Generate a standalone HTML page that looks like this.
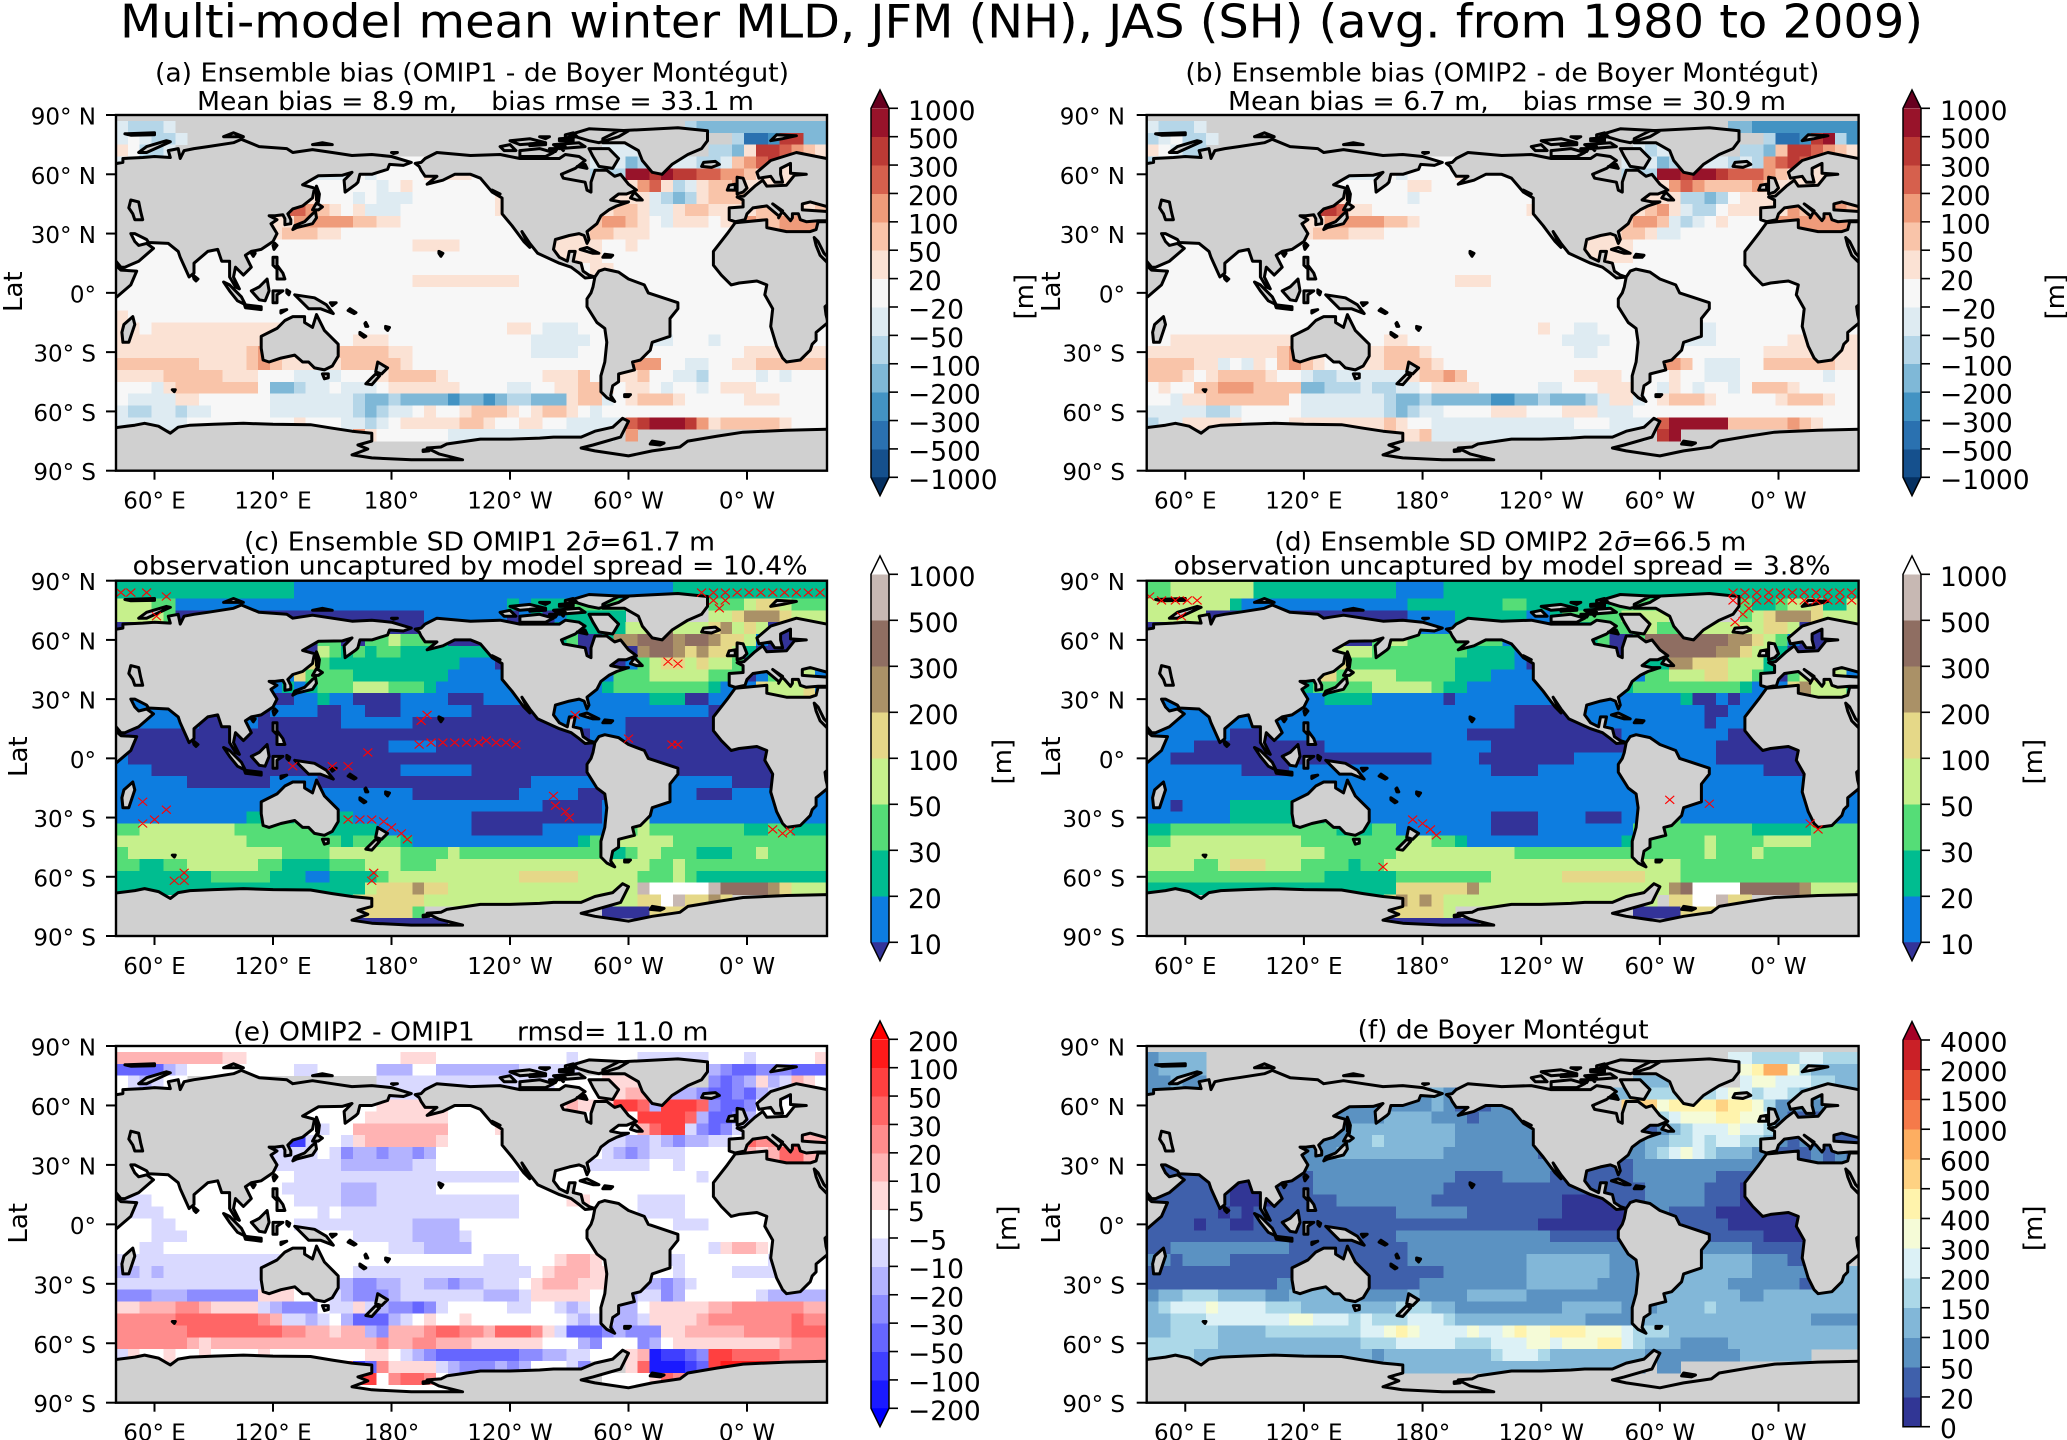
<!DOCTYPE html>
<html lang="en">
<head>
<meta charset="utf-8">
<title>Multi-model mean winter MLD</title>
<style>
html,body{margin:0;padding:0;background:#fff;}
svg{display:block;font-family:"DejaVu Sans","Liberation Sans",sans-serif;}
</style>
</head>
<body>
<svg id="figure" width="2067" height="1440" viewBox="0 0 2067 1440" xmlns="http://www.w3.org/2000/svg">
<rect x="0" y="0" width="2067" height="1440" fill="#fff"/>
<text x="120" y="37.5" font-size="46" textLength="1803" lengthAdjust="spacingAndGlyphs">Multi-model mean winter MLD, JFM (NH), JAS (SH) (avg. from 1980 to 2009)</text>
<text x="155" y="81.7" font-size="25.5" textLength="634" lengthAdjust="spacingAndGlyphs">(a) Ensemble bias (OMIP1 - de Boyer Montégut)</text>
<text x="197" y="110" font-size="25.5" textLength="557" lengthAdjust="spacingAndGlyphs" xml:space="preserve">Mean bias = 8.9 m,    bias rmse = 33.1 m</text>
<text x="1185.4" y="81.7" font-size="25.5" textLength="634" lengthAdjust="spacingAndGlyphs">(b) Ensemble bias (OMIP2 - de Boyer Montégut)</text>
<text x="1228" y="110" font-size="25.5" textLength="558" lengthAdjust="spacingAndGlyphs" xml:space="preserve">Mean bias = 6.7 m,    bias rmse = 30.9 m</text>
<text x="244" y="550.5" font-size="25.5" textLength="471" lengthAdjust="spacingAndGlyphs">(c) Ensemble SD OMIP1 2<tspan font-style="italic">σ̄</tspan>=61.7 m</text>
<text x="132.6" y="574.5" font-size="25.5" textLength="675" lengthAdjust="spacingAndGlyphs">observation uncaptured by model spread = 10.4%</text>
<text x="1274.4" y="550.5" font-size="25.5" textLength="472" lengthAdjust="spacingAndGlyphs">(d) Ensemble SD OMIP2 2<tspan font-style="italic">σ̄</tspan>=66.5 m</text>
<text x="1173.6" y="574.5" font-size="25.5" textLength="657" lengthAdjust="spacingAndGlyphs">observation uncaptured by model spread = 3.8%</text>
<text x="233.4" y="1040.7" font-size="25.5" textLength="475" lengthAdjust="spacingAndGlyphs" xml:space="preserve">(e) OMIP2 - OMIP1     rmsd= 11.0 m</text>
<text x="1357.6" y="1038.3" font-size="25.5" textLength="291" lengthAdjust="spacingAndGlyphs">(f) de Boyer Montégut</text>
</svg>
<script>
// ---------- colour scale levels ----------
const levelsBias = [-1000,-500,-300,-200,-100,-50,-20,20,50,100,200,300,500,1000];
const colorsBias = ['#053061','#15508d','#2a71b0','#4393c3','#7fb8d7','#b5d6e8','#deebf2','#f7f7f7','#fbe2d4','#f9c4a9','#ef9b7a','#d6604d','#bc3a35','#98132a','#67001f'];
const levelsSd = [10,20,30,50,100,200,300,500,1000];
const colorsSd = ['#333399','#0d7de0','#00bd90','#55dd77','#c6f08c','#e5d888','#aa9167','#8f6e62','#c7b8b3','#ffffff'];
const levelsDiff = [-200,-100,-50,-30,-20,-10,-5,5,10,20,30,50,100,200];
const colorsDiff = ['#0000ff','#1a1aff','#3f3fff','#6666ff','#8c8cff','#b3b3ff','#d9d9ff','#ffffff','#ffd9d9','#ffb3b3','#ff8c8c','#ff6666','#ff4040','#ff1a1a','#ff0000'];
const levelsObs = [0,20,50,100,150,200,300,400,500,600,1000,1500,2000,4000];
const colorsObs = ['#313695','#313695','#3f60ab','#5b92c2','#82b7d8','#acd8e8','#dcf1f6','#f5fbd7','#fff3ac','#fed283','#fdae61','#f57a4a','#e64f35','#ca2027','#a50026'];

// ---------- axis ticks ----------
const xTickLons = [60,120,180,240,300,360];
const xTickLabels = ['60° E','120° E','180°','120° W','60° W','0° W'];
const yTickLats = [90,60,30,0,-30,-60,-90];
const yTickLabels = ['90° N','60° N','30° N','0°','30° S','60° S','90° S'];

// ---------- grid: 60 columns from 40.5E, 6 deg each; 29 rows from 87N, 6 deg each; values in metres ----------
const biasOmip1 = [
[-35,-75,-75,-75,-35,,,,,,,,,,,,,,,,,,,,,,,,,,,,,,,,,,,,,,,,,,,,-75,-150,-150,-150,-150,-150,-150,-150,-150,-150,-150,-150,-150],
[-35,0,-35,-75,-75,-35,,,,,,,,,,,,,,,,,,,,,,,,,,,,,,,,,,,,,,,,,,,,,,,-75,-400,-400,-250,400,400,-150,-150,-150,-150],
[35,0,-75,-75,-35,,,,,,,,,,,,,,,,,,,,,,,,,,,,,,,,,,,,,-35,-35,-35,,,,,,,-75,-75,-150,35,300,300,250,150,75,35],
[-35,,,,,,,,,,,,,,,,,,,,,,,,,,,,,,,,,,,,,,,,,,-35,-150,-75,,,-35,-35,-75,-75,-35,75,150,250,300,35,,,],
[,,,,,,,,,,,,,,,,,,-35,-35,0,-35,0,0,0,0,35,35,35,35,0,0,,,,,,,,,,,-75,750,750,400,750,400,400,250,250,150,150,75,35,,,,,],
[,,,,,,,,,,,,,,,,,0,0,0,0,0,-35,0,35,0,0,0,0,0,0,0,35,,,,,,,,,,,35,150,250,35,-75,-35,35,75,75,150,35,,,,,,],
[,,,,,,,,,,,,,,,,35,0,0,0,-35,0,-35,-35,-35,0,0,0,0,0,0,0,35,,,,,,,,,,35,35,35,-35,-75,-150,-75,35,75,75,75,35,,,,,35,35],
[,,,,,,,,,,,,,,,250,150,75,35,0,35,-35,-35,-35,0,0,0,0,0,0,0,0,35,,,,,,,,,35,75,75,35,-35,-35,35,75,75,35,35,35,,75,75,75,75,35,75],
[,,,,,,,,,,,,,,35,150,150,150,150,150,75,75,35,35,0,0,0,0,0,0,0,0,0,0,,,,,,,75,150,150,75,35,0,-35,35,35,35,0,35,35,150,75,75,150,150,150,],
[,,,,,,,,,,,,,35,75,75,75,35,35,0,0,0,0,0,0,0,0,0,0,0,0,0,0,0,,,,,35,35,75,75,35,35,35,0,0,0,0,0,0,0,,,,,,,,],
[,,,0,0,0,,,,,,,,0,0,0,0,0,0,0,0,0,0,0,0,35,35,35,35,0,0,0,0,0,0,,,35,35,35,35,0,0,35,0,0,0,0,0,0,0,,,,,,,,,],
[,0,0,0,0,0,,,0,,,,0,,0,0,0,0,0,0,0,0,0,0,0,0,0,0,0,0,0,0,0,0,0,0,,,35,35,35,0,0,0,0,0,0,0,0,0,0,,,,,,,,,],
[,0,0,0,0,0,,0,0,0,,,0,0,,0,0,0,0,0,0,0,0,0,0,0,0,0,0,0,0,0,0,0,0,0,0,0,0,,,35,0,0,0,0,0,0,0,0,0,0,,,,,,,,],
[,,0,0,0,0,0,0,0,,,0,0,0,,0,0,0,0,0,0,0,0,0,0,35,35,35,35,35,35,35,35,35,0,0,0,0,0,0,,,,,,0,0,0,0,0,0,0,,,,,,,,],
[0,0,0,0,0,0,0,0,0,,0,0,,,0,0,,0,0,0,0,0,0,0,0,0,0,0,0,0,0,0,0,0,0,0,0,0,0,0,,,,,,,0,0,0,0,0,0,0,0,0,,,,,],
[0,0,0,0,0,0,0,0,0,0,,0,0,0,0,0,,,0,0,0,0,0,0,0,0,0,0,0,0,0,0,0,0,0,0,0,0,0,0,,,,,,,,0,0,0,0,0,0,0,0,0,,,,],
[35,0,0,0,0,0,0,0,0,0,0,0,0,0,0,,,0,0,0,0,0,0,0,0,0,0,0,0,0,0,0,0,0,0,0,0,0,0,0,0,,,,,,,0,0,0,0,0,0,0,0,0,,,,],
[35,,0,35,35,35,35,35,35,35,35,35,35,,,,,,0,0,0,0,0,0,0,0,0,0,0,0,0,0,0,35,35,0,-35,-35,-35,0,0,,,,,,0,0,0,0,0,0,0,0,0,,,,,0],
[35,,35,35,35,35,35,35,35,35,35,35,,,,,,,,0,35,35,35,0,0,0,0,0,0,0,0,0,0,0,0,-35,-35,-35,-35,-35,0,,,,,,-35,0,0,0,-35,0,0,0,0,0,,,,0],
[35,35,35,35,35,35,35,35,35,35,35,75,150,,,,,,,75,75,75,75,35,35,0,0,0,0,0,0,0,0,0,0,-35,-35,-35,-35,0,0,0,,,,0,0,0,0,0,0,0,0,35,35,35,,,,35],
[75,75,75,75,75,75,75,35,35,35,35,75,150,75,35,35,35,35,35,75,75,75,75,75,35,0,0,0,0,0,0,0,0,0,0,0,0,0,0,0,0,,,,150,150,0,0,-35,-35,0,0,35,35,75,75,75,75,75,75],
[35,35,35,35,75,75,75,75,75,35,35,35,0,0,0,-35,-35,-35,-35,0,0,,35,75,75,75,75,35,0,0,0,0,0,0,0,0,35,35,35,75,0,,,35,75,0,0,-35,-35,-75,0,0,0,0,-35,0,-35,0,0,0],
[0,0,0,-35,35,75,75,75,75,75,75,75,0,-150,-150,-75,-35,-35,0,-35,-35,-35,0,35,35,35,35,35,35,0,0,0,0,-35,-35,0,0,35,35,75,75,,0,35,35,0,-35,0,0,-35,0,35,35,35,0,0,0,0,0,0],
[0,-35,-35,-35,-35,35,35,0,0,0,0,0,0,-35,-35,-35,-35,-35,-35,-35,-75,-150,-150,-75,-150,-150,-150,-150,-250,-150,-150,-250,-150,-75,-75,-150,-150,-150,35,75,75,-35,0,35,75,75,75,35,0,0,0,0,0,35,35,35,0,0,0,0],
[-35,-75,-75,-35,-35,-75,-35,-35,0,0,0,0,0,-35,-35,-35,-35,-35,-35,-35,-75,-150,-75,-35,-35,0,35,0,0,35,75,75,75,35,0,35,75,75,35,0,-35,0,0,0,0,0,0,0,0,0,0,0,0,0,0,0,0,0,0,0],
[-35,-35,-35,-35,-35,-35,0,0,0,0,0,0,0,0,0,35,0,0,0,-35,-35,-75,-35,0,35,35,35,35,35,75,75,35,0,0,35,35,0,0,-35,-35,-35,-35,-35,250,400,750,750,750,400,150,35,75,75,75,75,75,35,0,0,0],
[,,,,,,,,,,,,,,,,,,,,150,35,0,0,0,0,0,0,-35,-35,-35,-35,-35,-35,-35,-35,-35,-35,-35,-35,-35,-35,,150],
[],
[]
];
const biasOmip2 = [
[-35,-75,-75,-75,-35,,,,,,,,,,,,,,,,,,,,,,,,,,,,,,,,,,,,,,,,,,,,,-150,-150,-250,-250,-250,-250,-250,-250,-250,-250,-250,-250],
[-75,-35,0,-75,-75,-35,,,,,,,,,,,,,,,,,,,,,,,,,,,,,,,,,,,,,,,,,,,,,,,-75,-400,-400,-250,400,750,-75,-250,-250,-250],
[35,0,-35,-75,-75,,,,,,,,,,,,,,,,,,,,,,,,,,,,,,,,,,,,,-35,-75,-35,,,,,,,-75,-75,-150,75,300,400,250,150,75,35],
[-75,,,,,,,,,,,,,,,,,,,,,,,,,,,,,,,,,,,,,,,,,,-35,-150,-75,,,-35,-35,-75,-35,-75,150,250,300,250,35,,,],
[,,,,,,,,,,,,,,,,,,-35,-35,0,-35,0,0,0,0,35,0,0,0,0,0,,,,,,,,,,,-75,750,750,400,750,750,400,250,250,250,150,75,35,,,,,],
[,,,,,,,,,,,,,,,,,0,0,0,0,0,35,35,0,0,0,0,0,0,0,0,0,,,,,,,,,,,35,150,250,150,75,75,75,75,150,75,35,,,,,,],
[,,,,,,,,,,,,,,,,35,0,0,0,0,0,-35,0,0,0,0,0,0,0,0,0,0,,,,,,,,,,35,35,35,-75,-75,-150,-75,0,35,35,35,35,,,,,35,35],
[,,,,,,,,,,,,,,,400,250,35,35,0,0,0,0,0,0,0,0,0,0,0,0,0,35,,,,,,,,,35,75,150,35,-35,-75,-75,0,35,35,35,35,,150,75,150,75,150,75],
[,,,,,,,,,,,,,,35,150,150,150,150,150,75,75,35,0,0,0,0,0,0,0,0,0,0,0,,,,,,,75,150,150,75,-35,-75,-35,0,35,0,0,0,0,150,150,150,150,150,150,],
[,,,,,,,,,,,,,35,75,75,75,35,35,35,0,0,0,0,0,0,0,0,0,0,0,0,0,0,,,,,35,35,75,75,35,-35,-35,0,0,0,0,0,0,0,,,,,,,,],
[,,,0,0,0,,,,,,,,0,0,0,0,0,0,0,0,0,0,0,0,0,0,0,0,0,0,0,0,0,0,,,35,35,35,35,0,0,0,0,0,0,0,0,0,0,,,,,,,,,],
[,0,0,0,0,0,,,0,,,,0,,0,0,0,0,0,0,0,0,0,0,0,0,0,0,0,0,0,0,0,0,0,0,,,35,35,35,0,0,0,0,0,0,0,0,0,0,,,,,,,,,],
[,0,0,0,0,0,,0,0,0,,,0,0,,0,0,0,0,0,0,0,0,0,0,0,0,0,0,0,0,0,0,0,0,0,0,0,0,,,0,0,0,0,0,0,0,0,0,0,0,,,,,,,,],
[,,0,0,0,0,0,0,0,,,0,0,0,,0,0,0,0,0,0,0,0,0,0,0,35,35,35,0,0,0,0,0,0,0,0,0,0,0,,,,,,0,0,0,0,0,0,0,,,,,,,,],
[0,0,0,0,0,0,0,0,0,,0,0,,,0,0,,0,0,0,0,0,0,0,0,0,0,0,0,0,0,0,0,0,0,0,0,0,0,0,,,,,,,0,0,0,0,0,0,0,0,0,,,,,],
[0,0,0,0,0,0,0,0,0,0,,0,0,0,0,0,,,0,0,0,0,0,0,0,0,0,0,0,0,0,0,0,0,0,0,0,0,0,0,,,,,,,,0,0,0,0,0,0,0,0,0,,,,],
[0,0,0,0,0,0,0,0,0,0,0,0,0,0,0,,,0,0,0,0,0,0,0,0,0,0,0,0,0,0,0,0,0,0,0,0,0,0,0,0,,,,,,,0,0,0,0,0,0,0,0,0,,,,],
[0,,0,0,0,0,0,0,0,0,0,0,0,,,,,,0,0,0,0,0,0,0,0,0,0,0,0,0,0,0,35,0,0,-35,-35,0,0,0,,,,,,-35,-35,0,0,0,0,0,0,0,,,,,0],
[0,,35,35,35,35,35,35,35,35,35,35,,,,,,,,0,35,35,0,0,0,0,0,0,0,0,0,0,0,0,0,-35,-35,-35,-35,0,0,,,,,,-35,-35,0,0,0,0,0,0,35,35,,,,35],
[35,35,35,35,35,35,35,35,35,35,35,75,150,,,,,,,35,75,75,75,35,0,0,0,0,0,0,0,0,0,0,0,0,-35,-35,0,0,0,0,,,,0,0,0,0,0,0,0,35,35,35,35,,,,35],
[75,75,75,75,35,35,-35,0,-35,35,0,75,150,75,35,0,0,-35,35,35,75,75,75,75,35,0,0,0,0,0,0,0,0,0,0,0,0,0,0,0,0,,,,150,75,0,-35,-35,-35,0,0,75,75,75,75,75,75,35,35],
[75,75,75,35,0,35,75,75,75,75,35,0,0,-35,-75,-75,-35,-35,-35,-35,-35,,35,75,75,150,75,0,0,0,0,0,0,0,0,0,35,35,35,35,0,,,0,35,0,0,-35,-35,-35,0,0,0,0,0,0,0,-35,0,0],
[0,35,0,0,75,75,150,150,150,75,75,75,75,-150,-150,-75,-75,-75,-35,-75,-75,-35,-35,0,35,35,35,35,0,0,0,0,0,-35,-35,0,0,0,35,35,35,,0,-35,35,0,-35,0,0,-35,0,75,75,75,35,0,0,0,0,0],
[0,0,-35,35,35,75,75,75,75,75,75,75,0,-35,-35,-35,-35,-35,-35,-35,-75,-150,-150,-75,-150,-150,-150,-150,-150,-250,-250,-150,-150,-75,-150,-150,-150,-75,-35,35,35,-35,0,35,75,75,75,35,0,0,0,0,0,35,75,75,75,35,0,0],
[-35,-35,-35,-35,-35,-75,-75,-35,0,0,0,0,0,-35,-35,-35,-35,-35,-35,-35,-75,-150,-75,-35,-35,0,0,0,0,35,35,35,0,0,0,35,35,35,-35,-35,-35,0,0,0,0,0,0,0,0,0,0,0,0,0,0,0,0,0,0,0],
[-75,-35,-35,35,35,35,35,35,0,0,0,0,35,35,35,35,35,35,35,35,75,35,0,0,-35,-35,-35,-35,-35,-35,-35,-35,-35,-35,-35,-35,0,0,0,-35,-35,-35,-35,250,750,750,750,750,750,75,75,75,75,75,150,75,35,0,0,0],
[,,,,,,,,,,,,,,,,,,,,75,35,35,75,-35,-35,-35,-35,-35,-35,-35,-35,-35,-35,-35,-35,-35,-35,-35,-35,-35,-35,,400,750],
[],
[]
];
const sdOmip1 = [
[25,25,25,25,25,25,25,25,25,25,25,25,25,25,25,15,15,15,15,15,15,15,15,15,15,15,15,15,15,15,15,15,15,15,15,15,15,15,15,15,15,15,15,15,15,15,15,25,25,25,25,25,25,25,25,25,25,25,25,25],
[75,75,75,40,40,15,15,15,15,15,15,15,15,15,15,15,15,15,15,15,15,15,15,15,15,15,15,15,15,15,15,15,15,25,15,25,25,25,40,40,40,40,40,,,,,,,,40,40,40,75,150,150,75,40,40,40],
[75,75,75,75,40,5,5,5,5,5,5,5,5,5,5,5,5,5,5,5,5,5,5,5,5,5,15,15,15,15,15,15,15,5,15,25,5,15,25,25,25,25,25,,,,,,,,75,75,150,250,250,250,150,75,75,75],
[5,,,,,,,,,,,,,,,,,,,,,,,,,,,,,,,,,,,,,,25,25,25,25,25,75,75,,,,75,75,150,250,75,150,75,5,,,,],
[,,,,,,,,,,,,,,,,,,40,5,5,40,40,75,40,40,40,25,5,5,,,,,,,,25,40,5,,,,250,400,400,400,250,400,400,250,150,150,75,15,5,5,5,,],
[,,,,,,,,,,,,,,,,5,75,40,25,40,25,40,40,25,25,25,25,25,25,25,25,15,,,,,,,,5,,,5,250,400,400,250,150,250,150,150,75,25,5,5,,,,],
[,,,,,,,,,,,,,,,5,150,40,25,25,25,25,25,25,25,25,25,25,25,15,15,15,5,,,,,,,,5,5,5,15,40,75,150,150,75,150,75,75,40,5,,,,,5,40],
[,,,,,,,,,,,,,,15,150,40,40,40,40,25,25,25,25,25,25,25,25,15,15,15,15,15,5,,,,,,,,15,40,40,40,75,75,75,75,75,40,40,40,5,15,40,75,150,75,15],
[,,,,,,,,,,,,,15,25,15,25,40,40,40,75,75,75,40,40,40,25,15,15,15,15,15,15,15,,,,,,,15,25,40,40,40,40,40,40,40,40,25,15,15,15,150,75,75,75,150,15],
[,,,,,,,,,,,,,,5,15,15,25,15,15,5,5,5,5,15,15,15,15,5,5,5,15,15,15,,,,,15,15,15,15,15,15,15,25,25,25,5,5,15,15,,,,,,,,],
[,,,15,15,15,,,,,,,,,15,15,15,5,5,15,15,5,5,5,15,15,15,15,15,15,5,5,5,5,5,,,,15,15,15,15,15,15,15,15,15,15,15,15,5,,,,,,,,,],
[,15,15,15,15,15,,,5,,,15,5,,5,5,5,5,5,15,15,15,15,15,15,5,5,5,5,5,5,5,5,5,5,5,5,15,15,15,15,15,15,5,5,5,5,5,5,5,5,,,,,,,,,],
[,5,5,5,5,5,,5,5,5,,,5,5,,5,5,5,5,5,5,5,5,5,5,5,5,5,5,5,5,5,5,5,5,5,5,5,5,,,15,15,5,5,5,5,5,5,5,5,5,,,,,,,,],
[,,5,5,5,5,5,5,5,5,,5,5,5,,5,5,5,5,5,5,5,5,15,15,15,15,5,5,5,5,5,5,5,5,5,5,5,5,5,,,,,,5,5,5,5,5,5,5,5,,,,,,,],
[15,5,5,5,5,5,5,5,5,5,5,5,,,,,5,5,5,5,5,5,5,5,5,5,5,5,5,5,5,5,5,5,5,5,5,5,5,5,,,,,,,5,5,5,5,5,5,5,5,5,,,,,],
[15,15,15,5,5,5,5,5,5,5,,5,5,5,5,5,,,5,5,5,5,5,5,15,15,15,15,15,15,5,5,5,5,5,5,5,5,5,5,,,,,,,,5,5,5,5,5,5,5,5,5,,,,],
[15,15,15,15,15,15,5,5,5,5,5,5,5,15,15,15,,,5,5,5,5,5,5,5,5,5,5,5,5,5,5,5,5,5,15,15,15,15,15,15,,,,,,,15,15,15,15,15,5,5,5,5,,,,],
[15,,15,15,15,15,15,15,15,15,15,15,15,,,,,,15,15,15,15,15,15,15,5,5,5,5,5,5,5,5,5,15,15,15,15,15,5,5,5,,,,,15,15,15,5,5,5,15,15,15,15,,,,],
[15,,15,15,15,15,15,15,15,15,15,15,15,,,,,,15,15,15,15,15,15,15,15,15,15,15,15,15,15,15,15,15,15,5,5,5,5,5,15,,,,,15,15,15,15,15,15,15,15,15,15,,,,15],
[15,15,15,15,15,15,15,15,15,15,15,25,25,,,,,,25,25,15,15,15,15,15,15,15,15,15,15,5,5,5,5,5,5,5,5,5,5,5,15,,,,,15,15,15,15,15,15,15,15,15,15,,,,15],
[40,40,75,75,75,75,75,75,75,75,40,40,40,,,,,40,25,25,25,25,15,15,15,15,15,15,15,15,5,5,5,5,5,5,15,15,15,15,15,15,25,40,75,40,40,40,40,40,40,40,40,25,25,40,40,25,25,25],
[75,75,75,75,75,75,75,75,75,75,75,40,40,40,40,40,40,40,40,25,40,40,40,40,25,15,15,15,15,15,15,15,15,15,15,15,15,15,15,25,40,,,75,75,75,75,40,40,40,40,40,40,40,40,40,40,40,40,40],
[40,75,75,75,75,75,75,75,75,75,75,75,75,75,40,40,40,40,75,75,75,75,75,75,40,40,40,40,75,40,40,40,40,40,40,40,40,40,40,40,40,25,,40,75,75,40,40,40,25,25,25,40,40,75,40,40,40,40,40],
[40,40,25,25,40,40,75,75,75,75,75,75,40,40,25,25,25,25,40,40,40,75,75,75,40,40,40,75,75,75,75,75,75,75,75,75,75,75,75,75,75,75,75,75,75,40,40,75,40,40,40,40,40,40,40,40,40,40,40,40],
[25,25,25,25,25,25,25,25,40,40,40,40,40,25,25,25,15,15,25,25,25,25,40,75,75,75,75,75,75,75,75,75,75,75,150,150,150,150,150,75,75,75,75,75,40,40,40,75,40,25,25,25,25,25,25,25,25,25,25,25],
[25,25,25,25,25,25,25,25,25,25,25,25,25,25,25,25,25,25,25,25,25,75,150,150,150,250,150,150,75,75,75,75,75,75,75,75,75,75,75,75,75,75,75,75,750,1500,1500,1500,1500,1500,750,400,400,400,400,250,150,75,75,75],
[,,,,,,,,,,,,,,,,,,,,150,150,150,150,150,150,75,75,75,75,75,75,75,75,75,75,75,75,75,75,75,,75,75,150,150,1500,750,150,150,250,150],
[,,,,,,,,,,,,,,,,,,,,,150,150,150,150,40,,,,,,,,,,,,,,,,5,5,5,5,150,150,150],
[,,,,,,,,,,,,,,,,,,,,5,5,5,5,5,5,5,5]
];
const sdOmip2 = [
[40,40,75,75,75,75,75,75,75,25,25,25,25,25,25,25,25,25,25,25,25,15,15,15,15,25,25,25,25,25,25,25,25,25,25,25,25,25,25,25,25,25,25,25,25,25,25,25,25,25,25,25,25,25,25,25,25,25,25,25],
[75,75,75,75,75,75,75,25,15,15,15,15,15,15,15,15,15,15,15,15,15,15,25,25,25,25,25,25,25,25,40,40,25,25,25,25,25,25,25,40,40,40,40,,,,,,,,40,25,25,40,75,75,150,25,25,75],
[75,75,75,75,75,5,5,5,5,5,5,5,5,5,5,5,5,5,5,5,5,5,15,15,15,15,25,25,25,25,25,25,15,15,25,40,40,40,40,40,75,75,75,75,,,,,,,40,75,150,250,250,250,150,75,75,75],
[5,,,,,,,,,,,,,,,,,,,,,,,,,,,,,,,,,,,,,25,40,40,40,40,75,40,,,,75,75,75,75,75,150,150,75,5,,,,,],
[,,,,,,,,,,,,,,,,,,5,40,75,75,40,40,40,40,40,40,40,40,15,,,,,,,25,40,5,,,,400,400,400,400,400,400,250,250,150,75,40,15,5,,,,],
[,,,,,,,,,,,,,,,,,75,75,40,40,40,40,40,40,40,40,25,25,25,25,15,15,,,,,,,,,,,,400,400,400,400,250,250,150,75,75,25,5,,,,,],
[,,,,,,,,,,,,,,,5,150,40,40,40,40,40,40,40,40,40,25,25,25,25,25,15,5,,,,,,,,5,15,25,25,250,250,150,150,150,75,75,75,25,5,,,,,5,40],
[,,,,,,,,,,,,,,,150,40,75,75,75,75,40,40,40,40,40,25,25,25,15,15,15,15,15,,,,,,,,15,40,40,75,75,75,150,150,75,75,40,25,5,40,75,150,150,75,15],
[,,,,,,,,,,,,,25,40,40,40,40,40,75,75,75,75,75,40,25,25,15,15,15,15,15,15,15,,,,,,,25,40,40,40,40,40,40,40,40,40,25,15,15,15,150,250,75,75,75,25],
[,,,,,,,,,,,,,,15,25,25,25,25,15,15,15,15,15,15,5,15,15,15,15,15,15,15,15,,,,,15,15,15,15,15,15,15,25,5,5,15,5,15,15,,,,,,,,],
[,,,15,15,15,,,,,,,,,15,15,15,15,15,15,15,15,15,15,15,15,15,15,15,15,15,5,5,5,5,,,,15,15,15,15,15,15,15,15,15,5,5,15,15,,,,,,,,,],
[,15,15,15,15,15,,15,,,,15,15,,15,15,15,15,15,15,15,15,15,15,15,15,15,15,15,15,15,5,5,5,5,5,5,15,15,15,15,15,15,15,15,15,15,5,15,15,15,,,,,,,,,],
[,15,15,15,15,15,,5,5,5,,,15,15,,15,15,15,15,15,15,15,15,15,15,15,15,5,5,5,5,5,5,5,5,5,5,5,5,5,15,15,15,15,15,15,15,15,15,5,5,5,,,,,,,,],
[,,15,15,5,5,5,5,5,5,,5,5,5,,15,15,15,15,15,15,15,15,15,15,15,15,15,15,5,5,5,5,5,5,5,5,5,5,5,,,,,,15,15,15,5,5,5,5,,,,,,,,],
[15,15,5,5,5,5,5,5,5,5,5,5,5,5,,5,5,5,5,5,5,5,5,5,15,15,15,15,5,5,5,5,5,5,5,5,15,15,15,15,,,,,,,15,15,5,5,5,5,5,5,5,5,,,,],
[15,15,15,15,15,15,15,15,5,5,5,5,15,15,15,15,,,15,15,15,15,15,15,15,15,15,15,15,5,5,5,5,15,15,15,15,15,15,15,,,,,,,,15,15,15,15,15,5,5,5,5,,,,],
[15,15,15,15,15,15,15,15,15,15,15,15,15,15,15,,,15,15,15,15,15,15,15,15,15,15,15,15,15,15,15,15,15,15,15,15,15,15,15,15,,,,,,,15,15,15,15,15,15,15,15,15,,,,],
[15,,15,15,15,15,15,15,15,15,15,15,15,,,,,,15,15,15,15,15,15,15,15,15,15,15,15,15,15,15,15,15,15,15,15,15,15,15,15,,,,,15,15,15,15,15,15,15,15,15,15,,,,],
[15,,5,15,15,15,15,25,25,25,25,25,25,,,,,,15,15,15,15,15,15,15,15,15,15,15,15,15,15,15,15,15,15,15,15,15,15,15,15,,,,,15,15,15,15,15,15,15,15,15,15,,,,15],
[15,15,15,15,15,15,15,25,25,25,25,25,25,,,,,,15,15,15,15,15,15,15,15,15,15,15,5,5,5,5,15,15,15,15,5,5,5,15,15,,,,,15,15,15,15,15,15,15,15,15,15,,,,15],
[25,25,40,40,40,40,40,40,40,40,40,40,40,,,,,25,25,40,40,15,15,15,15,15,15,15,15,5,5,5,5,15,15,15,15,15,15,15,15,40,40,40,40,40,40,40,40,40,40,25,25,25,25,25,40,40,40,40],
[40,40,75,75,75,75,75,75,75,75,75,75,75,40,40,40,40,40,40,40,40,40,75,75,40,40,25,15,15,15,15,15,15,15,15,15,15,15,15,15,25,,,40,40,40,40,75,40,40,40,40,75,75,75,75,40,40,40,40],
[75,75,75,75,75,75,75,75,75,75,75,75,75,75,75,40,40,40,40,40,40,75,75,75,75,75,75,75,75,75,75,40,40,40,40,40,40,40,40,40,40,40,,40,40,40,40,75,40,40,40,75,40,40,40,40,40,40,40,40],
[75,75,75,75,40,40,75,150,150,150,75,75,75,40,40,40,40,25,40,40,75,75,75,75,75,75,75,75,75,75,75,75,75,75,75,75,75,75,75,75,75,75,75,75,75,40,40,40,40,40,40,40,40,40,40,40,40,40,40,40],
[40,40,40,40,40,40,40,40,40,40,40,40,40,40,40,25,25,25,25,25,25,40,40,40,40,40,40,40,40,75,75,75,75,75,75,150,150,150,150,150,150,150,75,75,75,40,40,40,40,40,40,40,40,40,40,40,40,40,40,40],
[25,25,25,25,25,25,25,25,25,25,25,25,25,25,25,25,25,25,25,25,25,150,150,150,150,150,150,250,75,75,75,75,75,75,75,75,75,75,75,75,75,75,75,75,250,400,1500,1500,1500,1500,400,400,400,400,400,250,75,75,75,75],
[,,,,,,,,,,,,,,,,,,,,150,250,150,250,150,75,75,75,75,75,75,75,75,75,75,75,75,75,75,75,75,,75,,150,150,1500,1500,750,150,150],
[,,,,,,,,,,,,,,,,,,,,,150,150,150,150,75,,,,,,,,,,,,,,,,5,5,5,5,150,150,150],
[,,,,,,,,,,,,,,,,,,,,5,5,5,5,5,5,5,5]
];
const diffOmip = [
[15,15,15,15,15,15,15,15,15,7,7,0,0,0,0,0,0,0,0,0,0,0,0,0,7,7,7,0,0,0,0,0,0,0,0,0,0,0,-7,0,0,0,0,0,-7,-7,-7,-7,-7,-7,0,0,0,-7,0,0,0,0,0,7],
[-40,-40,-40,-40,-15,-7,0,0,0,0,0,0,0,0,0,-7,-7,0,0,0,0,0,-15,-15,-15,0,0,-15,-15,-15,-15,-15,-15,-15,-7,-7,-7,-7,-7,,,,,,,,,,,,-15,-25,-40,-40,-25,-25,-25,-40,-40,-40],
[0,-7,-15,-7,0,0,,,,,,,,,,,,,,,,,-7,-7,-7,-7,-7,-7,-7,-7,-7,-7,-7,-7,-7,-7,-7,0,0,0,0,7,7,7,,,,,,,-25,-40,-25,-15,7,-15,-7,15,7,0],
[0,,,,,,,,,,,,,,,,,,,,,,,,,,,,,,,,,,,,,,0,0,0,7,7,15,15,,,-15,-15,-25,-40,-40,-25,-40,-15,-7,,,,],
[,,,,,,,,,,,,,,,,,,0,0,0,0,7,7,7,7,7,7,0,0,0,0,0,0,0,0,0,7,15,7,,,,75,40,-15,75,75,75,40,-25,-40,-40,-25,0,0,0,,,],
[,,,,,,,,,,,,,,,,,0,0,0,0,7,7,7,7,7,7,7,0,0,0,0,0,,,,,,,,0,,,0,75,75,75,75,40,-15,-40,-40,-25,-15,0,0,,,,],
[,,,,,,,,,,,,,,,,0,-7,0,0,15,15,15,15,15,15,15,15,0,0,0,0,7,,,,,,,,,,0,0,15,40,75,75,-7,-25,-40,-25,-7,0,,,,,0,0],
[,,,,,,,,,,,,,,,-75,-7,0,0,-7,7,15,15,15,15,15,15,7,0,0,0,0,0,,,,,,,,,-7,-7,-15,-15,-7,-15,-25,-15,-15,-7,-7,0,40,25,25,15,40,15,15],
[,,,,,,,,,,,,,,,-7,-7,0,-7,-25,-15,-15,-25,-15,-15,-25,-15,0,0,0,0,0,0,0,,,,,,,0,-7,-15,-25,-15,-7,-7,-7,0,0,0,0,0,15,7,15,40,40,15,],
[,,,,,,,,,,,,,,-7,-7,-7,-7,-7,-15,-15,-15,-15,-15,-15,-7,-7,0,0,0,0,0,0,0,,,,,0,0,-7,-7,-7,-7,-7,0,0,-7,0,0,0,0,,,,,,,,],
[,,,0,0,0,,,,,,,,,0,-7,-7,-7,-7,-7,-7,-7,-7,-7,-7,-7,-7,-7,-7,-7,-7,-7,-7,-7,0,,,0,0,0,0,0,0,0,0,0,0,0,0,-7,0,,,,,,,,,],
[,0,0,0,0,0,,,0,,,,0,,-7,-7,-7,-7,-7,-15,-15,-15,-7,-7,-7,-7,-7,0,0,0,0,0,0,0,0,0,,,0,0,0,0,0,0,0,0,0,0,0,0,0,,,,,,,,,],
[,-7,-7,0,0,0,,0,0,0,,,0,0,,-7,-7,-7,-7,-15,-15,-15,-7,-7,-7,-7,-7,-7,-7,-7,-7,-7,-7,-7,0,0,0,0,7,,,0,0,0,-7,-7,-7,-7,0,0,0,0,,,,,,,,],
[,,-7,-7,0,0,0,0,0,0,,0,0,0,,0,0,-7,0,-7,-7,-7,-7,-7,-7,-7,-7,-7,-7,-7,-7,-7,-7,-7,0,0,0,0,0,0,,,,,,-7,-7,-7,0,0,0,0,,,,,,,,],
[0,0,0,-7,-7,0,0,0,0,,0,0,,,0,-7,,-7,-7,-7,-7,-7,-7,-7,-7,-15,-15,-15,-15,0,0,0,0,0,0,0,0,0,0,0,,,,,,,0,-7,-7,-7,0,0,0,0,0,,,,,-25],
[0,0,0,-7,-7,-7,0,0,0,0,,0,0,0,0,0,,,0,0,-7,-7,-7,-7,-7,-15,-15,-15,-15,-7,0,0,0,0,0,0,0,0,0,0,,,,,,,,0,0,0,0,0,0,0,0,0,,,,],
[0,0,-7,-7,0,0,0,0,0,0,0,0,0,0,0,,,0,0,0,0,0,0,-7,-7,-7,-15,-15,-15,-15,0,0,0,0,0,0,0,0,0,0,0,,,,,,,0,0,0,-7,7,15,15,7,0,,,,],
[-7,,-7,-7,-7,-7,-7,-7,-7,-7,-7,-7,-7,,,,,,0,0,0,0,0,0,0,0,0,0,0,0,0,-7,-7,-7,0,0,0,7,15,15,7,0,,,,,-7,-7,0,0,0,0,0,0,0,-7,,,,],
[-15,,-7,-15,-7,-7,-7,-7,-7,-7,-7,-7,-7,,,,,,,0,-7,-7,-7,-7,-7,-7,-7,-7,-7,-7,-7,-7,-7,-7,-7,0,7,15,15,15,7,,,,,,0,-7,0,0,0,0,-7,-7,-7,-7,,,,0],
[-7,-7,-7,-7,-7,-7,-7,-7,-7,-7,-7,-7,,,,,,,-15,-15,-25,-25,-15,-15,-7,-7,-15,-15,-25,-15,-15,-7,-7,-7,0,7,15,15,15,7,7,,,,,-15,-25,-15,-7,0,0,0,0,0,0,0,,,,0],
[-25,-25,-25,-15,-15,-15,-25,-25,-25,-25,-25,-25,7,7,7,0,,,-7,-15,-25,-25,-25,-15,-7,-7,-7,-7,-7,-7,-7,-15,-15,-15,-7,7,7,7,7,7,0,,,,,-7,-25,-15,0,0,0,0,0,0,-7,-15,-15,-15,-15,-15],
[7,7,15,15,15,25,25,15,7,7,7,7,-7,-15,-25,-25,-25,0,-7,-7,7,-7,-15,-25,-25,-40,-25,-7,0,0,0,0,0,-7,-7,0,0,-7,-15,-7,0,,,-15,0,7,7,7,7,7,15,15,25,25,25,25,25,25,15,15],
[25,25,25,25,25,40,40,40,40,40,40,40,25,15,-7,-7,-15,-7,0,-15,-40,-40,-40,-15,-7,0,7,0,0,7,0,0,0,0,0,0,0,0,-7,-15,-7,,,-15,-7,7,7,7,7,15,25,25,25,25,25,25,25,40,25,25],
[25,25,25,25,25,25,40,40,40,40,40,40,40,40,25,25,15,15,7,15,15,-15,-25,15,15,15,25,40,40,25,25,15,40,40,40,25,7,-7,-40,-40,-40,-25,-15,-25,-25,-25,7,7,15,15,15,15,15,25,25,25,25,40,40,40],
[25,25,25,25,25,25,15,7,15,15,15,15,15,15,15,15,15,15,15,15,15,15,25,15,15,25,25,15,15,15,7,7,7,7,7,7,0,0,0,-15,-25,0,0,0,-25,-15,0,7,7,7,7,7,7,7,7,7,15,25,25,25],
[-7,7,0,0,7,0,0,7,0,0,0,0,7,0,0,0,0,0,0,0,0,7,7,0,-7,-15,-25,-40,-40,-40,-40,-40,-40,-40,-25,-25,-15,-15,-7,-7,0,0,0,7,15,-150,-75,-75,-40,-25,75,75,40,40,40,40,25,25,25,25],
[,,,,,,,,,,,,,,,,,,,40,-75,-40,25,7,7,7,7,-7,-15,-25,-25,-25,-15,-25,-15,0,0,0,-7,-25,,,,7,40,-150,-150,-150,-75,-40,75,150,150,150,150,150,150,150,75,75],
[,,,,,,,,,,,,,,,,,,,,75,75,0,25,40,40,25,0,,,,,,,,,,,,,,0,0,0,0,7,40,25],
[,,,,,,,,,,,,,,,,,,,,0,0,0,0,0,0,0,0,,,,,,,,,,,,,,,0,0,0,0]
];
const obsMld = [
[75,125,125,125,125,,,,,,,,,,,,,,,,,,,,,,,,,,,,,,,,,,,,,,,,,,,,,250,250,175,175,175,175,250,250,175,175,175],
[75,125,125,125,125,,,,,,,,,,,,,,,,,,,,,,,,,,,,,,,,,,,,,,,,,,,,,,350,450,800,800,350,175,125,125,125,125],
[75,75,125,75,75,,,,,,,,,,,,,,,,,,,,,,,,,,,,,,,,,,,,,125,125,125,,,,,,,250,350,350,250,250,250,175,175,125,125],
[75,,,,,,,,,,,,,,,,,,,,,,,,,,,,,,,,,,,,,,,,,125,175,175,,,,175,250,350,250,175,250,250,175,125,,,,],
[,,,,,,,,,,,,,,,,,,75,,75,75,75,75,125,75,35,75,35,75,75,,,,,,,,,,,,550,350,450,450,450,450,550,450,450,350,175,75,75,,,,],
[,,,,,,,,,,,,,,,,75,75,75,75,125,125,125,125,75,75,75,35,75,75,75,75,75,35,,,,,,,,,,175,250,350,350,350,450,450,350,350,250,75,35,35,,,,],
[,,,,,,,,,,,,,,,,75,125,125,125,125,125,125,125,125,125,75,75,75,75,75,75,75,35,,,,,,,,,35,75,125,175,250,250,250,350,250,250,175,35,,,,,,],
[,,,,,,,,,,,,,,,75,75,125,125,175,125,125,125,125,125,125,75,75,75,75,75,75,75,75,,,,,,,,75,125,125,175,175,250,175,250,250,175,175,125,75,35,75,35,75,35,35],
[,,,,,,,,,,,,,75,75,75,125,125,125,125,125,125,125,125,125,75,75,75,75,75,75,75,75,35,,,,,,,,75,125,175,250,350,250,175,125,125,125,75,75,35,35,35,75,35,75,35],
[,,,,,,,,,,,,,75,75,75,75,75,75,75,75,75,75,75,75,75,75,75,75,75,75,75,75,75,,,,,35,35,35,75,75,75,75,75,75,75,75,75,75,75,35,,,,,,,],
[,,,35,35,35,,,,,,,35,35,75,75,75,75,75,75,75,75,75,75,75,75,35,35,35,35,75,75,75,75,35,,,,35,35,35,75,75,75,75,75,75,75,35,35,35,,,,,,,,,],
[,35,35,35,35,35,,,10,,,35,35,35,75,75,75,75,75,75,75,75,75,75,75,35,35,35,35,35,35,35,35,35,35,35,35,35,,35,35,35,75,75,75,75,75,35,35,35,10,,,,,,,,,],
[,35,35,35,35,35,,,10,10,,,35,35,35,35,75,75,75,75,75,75,75,75,35,35,35,35,35,35,35,35,35,35,35,10,10,10,,,,,,75,75,75,75,35,35,35,10,10,,,,,,,,],
[,,35,35,35,35,10,35,10,35,35,35,35,35,35,35,35,35,35,35,35,75,75,75,75,75,75,35,35,35,35,35,35,35,35,10,10,10,10,10,,,,,,35,35,35,10,10,10,10,,,,,,,,],
[,35,35,35,10,35,35,10,10,35,35,35,35,35,35,35,35,35,35,35,35,35,35,35,35,35,35,35,35,35,35,35,35,10,10,10,10,10,10,10,,,,,,,35,35,35,10,10,10,10,10,10,,,,,],
[35,35,35,35,35,35,35,35,35,35,35,35,35,35,35,35,35,35,35,35,35,75,75,75,75,75,75,75,75,75,75,75,75,75,35,35,35,35,35,35,,,,,,,35,35,35,35,35,35,10,10,10,10,,,,],
[35,35,75,75,75,75,75,75,75,75,75,75,35,35,35,35,35,35,35,35,35,35,75,75,75,75,75,75,75,75,75,75,75,75,75,75,75,75,75,75,75,,,,,,,75,75,75,75,35,35,35,35,35,,,,],
[75,,35,75,75,75,75,35,35,35,35,35,35,,,,,,35,35,35,35,75,75,75,75,75,75,75,75,75,75,125,125,125,125,125,125,125,75,75,,,,,,125,125,125,125,125,75,75,75,35,,,,,],
[35,,35,35,35,35,35,35,35,35,35,35,35,,,,,,,35,35,35,35,35,35,75,75,75,75,75,75,75,125,125,125,125,125,125,125,75,75,,,,,,125,125,125,125,125,75,75,75,75,,,,,],
[35,35,35,35,35,35,35,35,35,35,35,75,75,,,,,,35,35,35,35,35,75,75,75,75,75,75,75,75,75,125,125,125,125,125,125,75,75,75,,,,,125,125,125,125,75,75,75,75,75,75,35,,,,],
[75,125,125,175,175,175,125,125,125,125,75,75,125,,,,,,,75,75,75,125,75,75,75,75,125,125,125,125,125,75,75,75,75,75,75,75,75,75,,,,125,125,125,125,125,125,75,75,125,125,125,125,125,125,125,125],
[125,175,250,250,250,350,250,250,250,250,175,175,175,125,125,125,125,125,125,125,125,175,175,175,125,125,75,75,75,75,75,75,75,75,75,125,125,125,125,125,75,,,,125,125,125,175,125,125,125,125,125,125,125,125,125,125,125,125],
[125,125,175,175,175,250,250,250,250,250,250,250,350,350,250,250,250,175,250,175,175,175,250,250,250,175,125,125,125,125,125,125,125,125,125,125,125,75,75,75,75,,,125,125,125,125,125,125,125,125,125,125,125,125,125,75,75,75,75],
[125,125,175,175,175,175,125,125,125,125,175,175,175,175,175,175,175,175,250,250,350,450,350,250,250,250,250,350,250,250,350,450,350,350,450,450,450,350,350,350,250,175,175,175,125,125,125,125,125,125,125,125,125,125,125,125,125,125,125,125],
[175,175,175,175,175,175,125,125,125,125,125,125,125,125,125,125,125,125,175,175,175,250,250,250,250,250,175,175,175,250,250,250,350,350,250,350,350,350,450,450,250,175,125,125,125,75,75,75,75,125,125,125,125,125,125,125,125,125,125,125],
[175,175,175,175,125,125,125,125,125,125,125,125,125,125,125,125,125,125,125,75,125,125,125,125,125,125,125,125,125,175,250,250,250,175,125,125,125,125,125,125,125,125,75,75,75,75,75,75,75,75,125,125,125,125,125,125],
[,,,,,,,,,,,,,,,,,,,,125,125,125,125,125,125,125,125,125,125,125,125,125,125,125,125,125,125,125,125,125,75,,75,75],
[],
[]
];

// ---------- cells the observation falls outside the model spread ----------
const hatchOmip1Lons = [337,343,349,355,361,367,373,379,385,391,397,343,349,346,43,48,56,66,61,194,200,206,212,218,224,228,233,238,243,168,195,198,158,164,170,176,180,185,188,262,263,268,270,373,378,382,320,325,54,66,60,54,70,75,75,170,171,130,150,158,300,325,322,273];
const hatchOmip1Lats = [84,84,84,84,84,84,84,84,84,84,84,80,80,76,84,84,84,82,72,7,8,8,8,8,8,9,8,8,7,3,19,22,-31,-31,-31,-32,-35,-38,-41,-19,-24,-27,-30,-36,-38,-37,49,48,-22,-26,-31,-33,-62,-62,-58,-62,-58,-4,-4,-4,10,7,7,22];
const hatchOmip2Lons = [337,343,349,355,361,367,373,379,385,391,397,337,343,349,355,361,367,373,379,385,391,397,345,342,338,42,48,55,61,66,58,175,180,184,187,380,376,160,305,325];
const hatchOmip2Lats = [84,84,84,84,84,84,84,84,84,84,84,80,80,80,80,80,80,80,80,80,80,80,76,73,69,82,80,80,80,80,72,-31,-33,-36,-39,-36,-33,-55,-21,-23];

// ---------- coastlines as [lon, lat] (lon runs 40.5 to 400.5) ----------
const landShapes = [
[[38,65],[44,66],[44,68],[54,68.5],[60,69],[68,68.5],[67,72],[72,73],[73,68],[75,72],[80,73],[87,74],[100,76],[104,77.7],[113,74],[127,73],[130,71],[140,72.5],[150,71],[160,69.5],[170,70],[180,69],[190,66],[186,64.5],[179,65],[178,62.5],[170,60],[164,60],[163,56],[162,55],[156.5,51],[156,57],[160,61],[155,59.5],[143,59.3],[135,54.7],[141,53],[140,48],[135,44],[130,42.5],[127.5,40],[129,37],[129,35],[126,34.5],[126,37.5],[125,39.5],[121,39],[118,39],[122,37],[119,35],[122,30],[120,26],[114,22],[109,21],[106,19],[109,13],[105,9],[101,13],[100,8],[103,2],[101,3],[98,8],[98,16],[94,16],[92,22],[87,21],[80,15],[80,10],[77.5,8],[73,18],[72,21],[67,25],[57,25.5],[56,27],[50,30],[48,30],[50,26],[52,24],[56,25],[59.5,22.5],[52,16],[45,13],[43,13],[38,19]],
[[38,-3],[41,-2],[48,4],[51,11],[43,11.5],[38,16]],
[[49,-12],[50,-16],[47,-25],[44,-25],[43.5,-20],[44.5,-16]],
[[130,32],[131,34],[136,36],[140,40],[141.5,41],[142,38],[140,35],[136,34],[132,33]],
[[140,42],[142,45.5],[145,43.5],[143,42]],
[[142,54],[143.5,50],[143,46],[142,47],[142,52]],
[[355,50],[358,51],[360,53],[358,58],[355,58.5],[355,54]],
[[350,52],[354,52],[354,55],[351,54.5]],
[[337,64],[342,63.5],[346,65],[344,66.5],[338,66]],
[[109,1],[113,-3.5],[116,-4],[118,1],[117,7],[113,3]],
[[95,5.5],[98,4],[104,-2],[106,-6],[102,-4],[98,1]],
[[105.5,-6],[114,-7],[114,-8.5],[106,-7.5]],
[[120,1],[125,1],[122,-1],[122,-5],[120,-5]],
[[120,18],[122,18],[122,14],[125,10],[126,7],[122,7],[122,12],[120,14]],
[[131,-1],[141,-2.5],[147,-6],[150.5,-10.5],[144,-8],[138,-8],[134,-4]],
[[127,1.5],[128.5,0.5],[128,-1],[127,0]],
[[124,-9],[127,-8.5],[124,-10.2]],
[[149,-5],[152,-5],[150,-6.5]],
[[114,-22],[122,-18],[126,-14],[130,-12],[136,-12],[136,-15],[140,-17.5],[142,-11],[146,-19],[153,-26],[153,-32],[150,-37],[146,-39],[141,-38],[138,-35],[135,-35],[131,-31.5],[124,-33],[118,-35],[115,-34],[114,-28]],
[[145,-41],[148,-41],[148,-43],[146,-43.5]],
[[173,-35],[178,-38],[175,-41],[172,-40]],
[[172,-41],[174,-42],[170,-46.5],[167,-46],[171,-42]],
[[79.5,9],[82,7],[81,6],[80,7]],
[[121,25],[122,24],[120.5,22],[120,24]],
[[109,20],[111,20],[110,18.5]],
[[164,-20],[167,-22],[166,-22.5],[164,-21]],
[[177,-17],[179,-17.5],[178,-19],[177,-18]],
[[159,-8],[162,-10],[161,-10.5],[158,-9]],
[[167,-15],[168,-17],[167,-17],[166.5,-15.5]],
[[204,21],[206,20],[205,18.5],[204,20]],
[[69,-49],[70.5,-49],[70,-50]],
[[298,-51.5],[301,-51.5],[300,-52.5],[298,-52.5]],
[[52,71],[56,71],[68,76.5],[66,77],[56,74]],
[[372,77],[378,78],[385,79.5],[375,80]],
[[45,80.5],[60,81],[60,80],[48,79.8]],
[[95,79],[105,79],[100,81]],
[[140,75],[150,75],[145,76]],
[[180,71],[183,71],[181,70.5]],
[[192,65.5],[195,66],[197,68],[203,71],[220,69.5],[235,70],[245,68],[255,68],[265,68],[268,70],[275,69],[278,67],[273,63],[266,60],[267,58],[278,56],[279,52],[281,51],[281,56],[283,62],[289,62],[293,59],[296,60],[300,55],[304,52],[299,50],[295,50],[291,47],[296,46],[300,46],[294,44],[290,42],[286,39],[284,35],[279,31],[280,27],[279,25],[277.5,29],[275,30],[270,29],[263,27],[262,22],[265,18],[269,16],[270,21],[273,21],[272,16],[276,15],[277,11],[280,9],[283,8],[278,7.5],[275,10],[271,13],[265,15],[254,20],[250,25],[246,31],[250,23],[247,26],[244,30],[241,34],[236,40],[236,48],[231,51],[225,58],[220,60],[212,60],[206,57],[198,55],[203,59],[197,59],[195,62],[194,64]],
[[301,48],[304,47],[307,47],[303,51]],
[[235,50],[233,50.5],[231,52],[233,51]],
[[287,78],[295,82],[325,83.5],[340,82],[340,77],[337,73],[330,70],[322,65],[317,60],[312,61],[307,67],[305,72],[298,76],[287,76]],
[[280,73],[290,73],[295,68],[292,63],[285,64],[282,69]],
[[245,72],[255,73],[262,71],[258,69],[245,69]],
[[235,74],[240,75],[243,72],[237,72]],
[[280,77],[285,76],[295,79],[300,82],[280,83],[270,80]],
[[262,75],[275,76],[278,74],[265,73]],
[[240,77],[250,78],[258,76],[245,75]],
[[265,78],[272,78.5],[272,77],[265,77]],
[[250,75.5],[258,76],[258,75],[250,74.5]],
[[260,73],[264,73],[263,71.5]],
[[265,74],[268,74],[267,72]],
[[268,80],[272,81],[274,79],[268,78.5]],
[[255,79],[260,79],[258,78]],
[[274,64],[278,65],[279,63]],
[[275.5,22],[279,23],[285,20],[282,20]],
[[288,19.5],[292,19],[291,18],[287,18]],
[[283,8],[285,11],[288,12],[295,10.5],[300,7],[308,4],[310,0],[316,-2],[325,-5],[325,-8],[321,-13],[321,-22],[312,-25],[311,-29],[306,-34],[302,-35],[303,-39],[295,-41],[295,-45],[292,-47],[291,-52],[293,-55],[289,-53],[286,-50],[286,-42],[288,-35],[289,-25],[288,-18],[284,-15],[279,-7],[279,-3],[281,0],[282,3]],
[[354,35.5],[370,37],[370,33],[380,31],[392,31],[395,32],[396,36],[403,36],[403,-4],[399.5,-7],[400,-11],[401,-15],[395,-20],[395,-24],[393,-26],[392,-29],[387,-34],[380,-35],[378,-33],[375,-27],[372,-17],[373,-8],[369,-1],[370,4],[365,6],[356,5],[352,4],[347,9],[343,14],[343,21],[350,30]],
[[351,37],[351,43],[358,43.5],[358,47],[355,48.5],[358.5,49],[364,54],[368,57],[370,54],[380,54.5],[384,59.5],[390,60],[382,60.5],[382,65.5],[377,63],[377,60],[378,56],[374,56],[372,59],[366,58],[365,61],[372,67],[385,71],[403,67.5],[403,43],[392,46],[388,45],[388,42],[395,41.5],[403,41],[403,36.5],[396,36.5],[390,36],[387,37],[386,40],[383,40],[383,38],[382,36.5],[379,40],[373,45],[378,41.5],[376,38],[376,39],[370,44],[363,43],[360,40],[359,37],[354,36]],
[[38,-68.5],[50,-67],[55,-66],[62,-67.5],[68,-71],[72,-68],[78,-67],[90,-66.5],[105,-66],[120,-66.5],[139,-66.7],[150,-68.5],[160,-70],[170,-71],[170,-75],[163,-77],[168,-79],[160,-82],[170,-83.5],[190,-84.5],[216,-84.5],[204,-81.5],[198,-78.5],[205,-78],[208,-76.5],[225,-74],[240,-74],[255,-73.5],[262,-73],[276,-73],[283,-70],[292,-68],[297,-63.5],[300,-65],[298,-69],[296,-73],[282,-77],[276,-78.5],[283,-80],[300,-82.5],[312,-80],[326,-78],[330,-75],[345,-72.5],[358,-70.5],[380,-69.5],[403,-69],[403,-93],[38,-93]]
];
const innerSeas = [
[[48,47],[52,46],[53,41],[54,37],[50,37],[49,40],[47,43]],
[[394,28],[396,26],[399,20],[403,16],[403,13],[397,19],[395,24]],
[[312,-75],[318,-76],[316,-77],[311,-76.5]],
[[196,-79.5],[200,-79],[199,-80],[196,-80.3]]
];

// ---------- layout ----------
const SVG_NS = 'http://www.w3.org/2000/svg';
const figure = document.getElementById('figure');
const LEFT_COL = {left:116, right:827, cbX:871, labelEnd:96};
const RIGHT_COL = {left:1146.7, right:1858.6, cbX:1903, labelEnd:1125};
const panels = [
 {id:'a', col:LEFT_COL, top:115, bottom:470.7, data:biasOmip1, levels:levelsBias, colors:colorsBias, cbTop:108.3, cbBottom:477.3, low:true, high:true, latBase:22, latCy:291.7, mX:1033, mCy:296.7},
 {id:'b', col:RIGHT_COL, top:115, bottom:470.7, data:biasOmip2, levels:levelsBias, colors:colorsBias, cbTop:108.3, cbBottom:477.3, low:true, high:true, latBase:1060, latCy:291.7, mX:2064, mCy:296.7},
 {id:'c', col:LEFT_COL, top:580.7, bottom:936, data:sdOmip1, levels:levelsSd, colors:colorsSd, cbTop:574.3, cbBottom:942.3, low:true, high:true, latBase:27, latCy:756.7, mX:1011, mCy:761.7, capTop:true, hatchLons:hatchOmip1Lons, hatchLats:hatchOmip1Lats},
 {id:'d', col:RIGHT_COL, top:580.7, bottom:936, data:sdOmip2, levels:levelsSd, colors:colorsSd, cbTop:574.3, cbBottom:942.3, low:true, high:true, latBase:1060, latCy:756.7, mX:2042, mCy:761.7, capTop:true, hatchLons:hatchOmip2Lons, hatchLats:hatchOmip2Lats},
 {id:'e', col:LEFT_COL, top:1046, bottom:1402.7, data:diffOmip, levels:levelsDiff, colors:colorsDiff, cbTop:1039.3, cbBottom:1408.3, low:true, high:true, latBase:27, latCy:1223.3, mX:1016, mCy:1228.3, capWhite:true},
 {id:'f', col:RIGHT_COL, top:1046, bottom:1402.7, data:obsMld, levels:levelsObs, colors:colorsObs, cbTop:1040, cbBottom:1426.7, low:false, high:true, latBase:1060, latCy:1223.3, mX:2042, mCy:1228.3}
];

function make(tag, attrs, parent){
  const node = document.createElementNS(SVG_NS, tag);
  for (const k in attrs) node.setAttribute(k, attrs[k]);
  parent.appendChild(node);
  return node;
}
function colorOf(value, levels, colors){
  for (let i = 0; i < levels.length; i++) if (value < levels[i]) return colors[i];
  return colors[levels.length];
}
function ringPath(ring, xOf, yOf){
  return 'M' + ring.map(function(pt){ return xOf(pt[0]).toFixed(1) + ' ' + yOf(pt[1]).toFixed(1); }).join('L') + 'Z';
}
// Extend ocean values a little under the land mask so the coarse grid reaches every coastline.
function extendUnderCoast(grid){
  let out = grid.map(function(row){ return Array.from({length:60}, function(_, c){ return row[c]; }); });
  for (let pass = 0; pass < 2; pass++) {
    const prev = out.map(function(row){ return row.slice(); });
    for (let r = 3; r <= 22; r++) {
      for (let c = 0; c < 60; c++) {
        if (prev[r][c] !== undefined) continue;
        const near = [prev[r][c-1], prev[r][c+1], prev[r-1][c], prev[r+1][c]].filter(function(v){ return v !== undefined; });
        if (near.length) out[r][c] = near[0];
      }
    }
  }
  return out;
}

panels.forEach(function(p){
  const g = make('g', {}, figure);
  
  
  const left = p.col.left, right = p.col.right;
  const xOf = function(lon){ return left + (lon - 40.5) * (right - left) / 360; };
  const yOf = function(lat){ return p.top + (90 - lat) * (p.bottom - p.top) / 180; };

  const clip = make('clipPath', {id:'clip-' + p.id}, g);
  make('rect', {x:left, y:p.top, width:right-left, height:p.bottom-p.top}, clip);
  const map = make('g', {'clip-path':'url(#clip-' + p.id + ')'}, g);
  
  

  const bg = make('rect', {x:left, y:p.top, width:right-left, height:p.bottom-p.top, fill:'#d0d0d0'}, map);
  
  
  if (p.capWhite) {
    const cap = make('rect', {x:left, y:p.top, width:right-left, height:yOf(87)-p.top+0.5, fill:'#ffffff'}, map);
    
    
  }

  const cells = make('g', {'shape-rendering':'crispEdges'}, map);
  
  
  extendUnderCoast(p.data).forEach(function(row, r){
    const latTop = (p.capTop && r === 0) ? 90 : 87 - 6 * r;
    const latBottom = 87 - 6 * (r + 1);
    for (let c = 0; c < 60; c++) {
      const v = row[c];
      if (v === undefined) continue;
      const x0 = xOf(40.5 + 6 * c), x1 = xOf(40.5 + 6 * (c + 1));
      const cell = make('rect', {x:x0.toFixed(1), y:yOf(latTop).toFixed(1), width:(x1-x0+0.4).toFixed(1), height:(yOf(latBottom)-yOf(latTop)+0.4).toFixed(1), fill:colorOf(v, p.levels, p.colors)}, cells);
      
      
    }
  });

  const land = make('path', {d:landShapes.map(function(s){ return ringPath(s, xOf, yOf); }).join(''), fill:'#d0d0d0', stroke:'#000', 'stroke-width':3, 'stroke-linejoin':'round'}, map);
  
  
  const seas = make('path', {d:innerSeas.map(function(s){ return ringPath(s, xOf, yOf); }).join(''), fill:'none', stroke:'#000', 'stroke-width':3, 'stroke-linejoin':'round'}, map);
  
  

  if (p.hatchLons) {
    let d = '';
    p.hatchLons.forEach(function(lon, i){
      const hx = xOf(lon), hy = yOf(p.hatchLats[i]);
      d += 'M' + (hx-4.5) + ' ' + (hy-4) + 'L' + (hx+4.5) + ' ' + (hy+4) + 'M' + (hx-4.5) + ' ' + (hy+4) + 'L' + (hx+4.5) + ' ' + (hy-4);
    });
    const hatch = make('path', {d:d, fill:'none', stroke:'#ff0000', 'stroke-width':1.1}, map);
    
    
  }

  const frame = make('rect', {x:left, y:p.top, width:right-left, height:p.bottom-p.top, fill:'none', stroke:'#000', 'stroke-width':2.4}, g);
  
  

  xTickLons.forEach(function(lon, i){
    const x = xOf(lon);
    const tick = make('line', {x1:x, x2:x, y1:p.bottom, y2:p.bottom+9, stroke:'#000', 'stroke-width':2}, g);
    
    
    const t = make('text', {x:x, y:p.bottom+38, 'font-size':23, 'text-anchor':'middle'}, g);
    t.textContent = xTickLabels[i];
    
    
  });
  yTickLats.forEach(function(lat, i){
    const y = yOf(lat);
    const tick = make('line', {x1:left-10, x2:left, y1:y, y2:y, stroke:'#000', 'stroke-width':2}, g);
    
    
    const t = make('text', {x:p.col.labelEnd, y:y+9.5, 'font-size':23, 'text-anchor':'end'}, g);
    t.textContent = yTickLabels[i];
    
    
  });

  const lat = make('text', {x:0, y:0, 'font-size':26, 'text-anchor':'middle', transform:'translate(' + p.latBase + ' ' + p.latCy + ') rotate(-90)'}, g);
  lat.textContent = 'Lat';
  
  

  // colourbar
  const cbX = p.col.cbX, cbW = 18, n = p.levels.length;
  const cb = make('g', {}, g);
  
  
  const yLevel = function(i){ return p.cbBottom - i * (p.cbBottom - p.cbTop) / (n - 1); };
  for (let i = 0; i < n - 1; i++) {
    const s = make('rect', {x:cbX, y:yLevel(i+1).toFixed(1), width:cbW, height:(yLevel(i)-yLevel(i+1)+0.4).toFixed(1), fill:p.colors[i+1], 'shape-rendering':'crispEdges'}, cb);
    
    
  }
  const tipH = 18.4;
  if (p.high) {
    const up = make('polygon', {points:cbX+','+p.cbTop+' '+(cbX+cbW/2)+','+(p.cbTop-tipH)+' '+(cbX+cbW)+','+p.cbTop, fill:p.colors[n]}, cb);
    
    
  }
  if (p.low) {
    const down = make('polygon', {points:cbX+','+p.cbBottom+' '+(cbX+cbW/2)+','+(p.cbBottom+tipH)+' '+(cbX+cbW)+','+p.cbBottom, fill:p.colors[0]}, cb);
    
    
  }
  let outline = 'M' + cbX + ' ' + p.cbBottom;
  if (p.low) outline += 'L' + (cbX+cbW/2) + ' ' + (p.cbBottom+tipH) + 'L' + (cbX+cbW) + ' ' + p.cbBottom;
  else outline += 'L' + (cbX+cbW) + ' ' + p.cbBottom;
  outline += 'L' + (cbX+cbW) + ' ' + p.cbTop;
  if (p.high) outline += 'L' + (cbX+cbW/2) + ' ' + (p.cbTop-tipH) + 'L' + cbX + ' ' + p.cbTop;
  else outline += 'L' + cbX + ' ' + p.cbTop;
  outline += 'Z';
  const cbOutline = make('path', {d:outline, fill:'none', stroke:'#000', 'stroke-width':1.5}, cb);
  
  
  p.levels.forEach(function(level, i){
    const y = yLevel(i);
    const tick = make('line', {x1:cbX+cbW, x2:cbX+cbW+9, y1:y, y2:y, stroke:'#000', 'stroke-width':1.6}, cb);
    
    
    const t = make('text', {x:cbX+cbW+19, y:y+11.5, 'font-size':26.5}, cb);
    t.textContent = String(level).replace('-', '\u2212');
    
    
  });
  const unit = make('text', {x:0, y:0, 'font-size':26, 'text-anchor':'middle', transform:'translate(' + p.mX + ' ' + p.mCy + ') rotate(-90)'}, cb);
  unit.textContent = '[m]';
  
  
});
</script>
</body>
</html>
